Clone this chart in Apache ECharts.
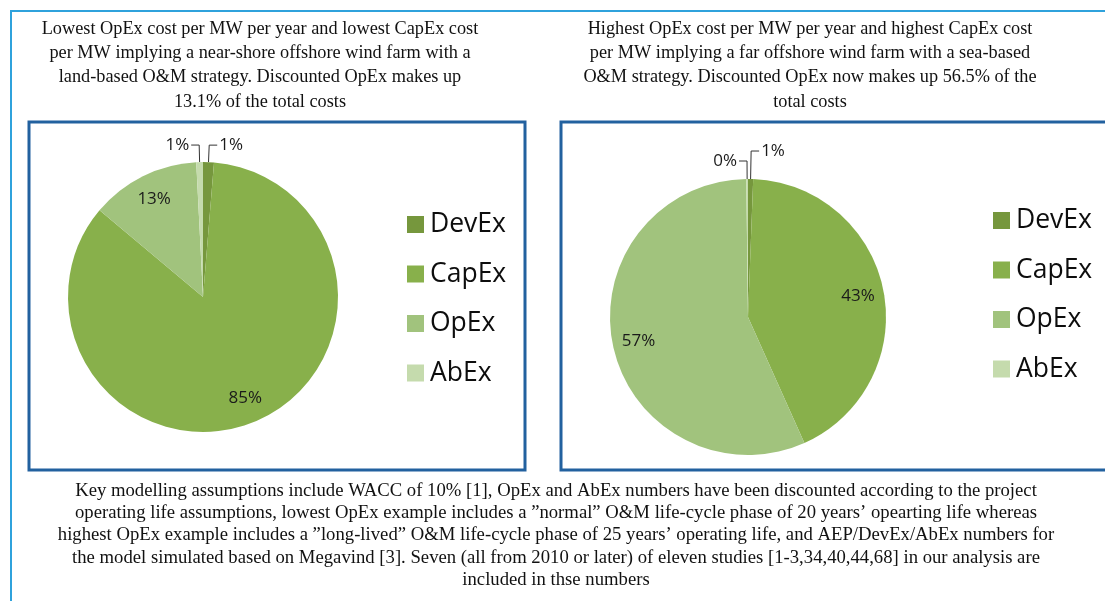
<!DOCTYPE html>
<html>
<head>
<meta charset="utf-8">
<script src="https://cdn.jsdelivr.net/npm/echarts@6/dist/echarts.min.js"></script>
<style>
html,body{margin:0;padding:0;background:#fff;}
#c{width:1105px;height:601px;}
</style>
</head>
<body>
<div id="c"></div>
<script>
// ---- data ----
const categories = ['DevEx', 'CapEx', 'OpEx', 'AbEx'];
const lowValues  = [1.3, 84.8, 13.1, 0.8];   // % of total cost, lowest OpEx case
const highValues = [0.6, 42.7, 56.5, 0.2];   // % of total cost, highest OpEx case
const colors = ['#76973d', '#88b04b', '#a1c37d', '#c5dbad'];

const leftTitle = [
  'Lowest OpEx cost per MW per year and lowest CapEx cost',
  'per MW implying a near-shore offshore wind farm with a',
  'land-based O&M strategy. Discounted OpEx makes up',
  '13.1% of the total costs'
];
const rightTitle = [
  'Highest OpEx cost per MW per year and highest CapEx cost',
  'per MW implying a far offshore wind farm with a sea-based',
  'O&M strategy. Discounted OpEx now makes up 56.5% of the',
  'total costs'
];
const footer = [
  'Key modelling assumptions include WACC of 10% [1], OpEx and AbEx numbers have been discounted according to the project',
  'operating life assumptions, lowest OpEx example includes a \u201dnormal\u201d O&M life-cycle phase of 20 years\u2019 opearting life whereas',
  'highest OpEx example includes a \u201dlong-lived\u201d O&M life-cycle phase of 25 years\u2019 operating life, and AEP/DevEx/AbEx numbers for',
  'the model simulated based on Megavind [3]. Seven (all from 2010 or later) of eleven studies [1-3,34,40,44,68] in our analysis are',
  'included in thse numbers'
];

const SMALL = 3; // slices below this % get an outside label
const pctFmt = p => Math.round(p.percent) + '%';
const lblFont = {fontFamily: '"Open Sans", sans-serif', fontSize: 17, color: '#1a1a1a'};

function pieSeries(values, center, r, lineLens) {
  return {
    type: 'pie', center: center, radius: r, startAngle: 90, clockwise: true,
    avoidLabelOverlap: false, silent: true,
    itemStyle: {borderWidth: 0},
    data: categories.map((n, i) => ({
      name: n, value: values[i],
      itemStyle: {color: colors[i]},
      label: values[i] < SMALL
        ? Object.assign({show: true, position: 'outside', formatter: pctFmt, distanceToLabelLine: 2}, lblFont)
        : {show: false},
      labelLine: values[i] < SMALL
        ? {show: true, length: lineLens[i], length2: 8, smooth: false, lineStyle: {color: '#333', width: 1}}
        : {show: false}
    }))
  };
}
function labelSeries(values, center, r) {
  return {
    type: 'pie', center: center, radius: [r * 0.58, r], startAngle: 90, clockwise: true,
    silent: true, avoidLabelOverlap: false,
    itemStyle: {color: 'rgba(0,0,0,0)', borderWidth: 0},
    labelLine: {show: false},
    data: categories.map((n, i) => ({
      name: n, value: values[i],
      label: values[i] >= SMALL
        ? Object.assign({show: true, position: 'inside', formatter: pctFmt}, lblFont)
        : {show: false}
    }))
  };
}

const graphics = [];
// frames
graphics.push({type: 'rect', shape: {x: 11, y: 11, width: 1200, height: 700},
  style: {fill: 'none', stroke: '#2fa2dc', lineWidth: 2}, z: -1});
graphics.push({type: 'rect', shape: {x: 29, y: 122, width: 496, height: 348},
  style: {fill: 'none', stroke: '#22619f', lineWidth: 3}, z: -1});
graphics.push({type: 'rect', shape: {x: 561, y: 122, width: 600, height: 348},
  style: {fill: 'none', stroke: '#22619f', lineWidth: 3}, z: -1});
function addLines(lines, cx, y0, dy, size) {
  lines.forEach((t, i) => graphics.push({
    type: 'text', x: cx, y: y0 + i * dy,
    style: {text: t, font: size + 'px "Liberation Serif", "Times New Roman", serif',
      fill: '#111', align: 'center', verticalAlign: 'middle'}
  }));
}
addLines(leftTitle, 260, 29, 24.3, 18.3);
addLines(rightTitle, 810, 29, 24.3, 18.3);
addLines(footer, 556, 491, 22.2, 18.7);

const legendCommon = {
  orient: 'vertical', data: categories, itemWidth: 17, itemHeight: 17, itemGap: 22.5,
  icon: 'rect', selectedMode: false,
  textStyle: {fontFamily: '"Open Sans", sans-serif', fontSize: 26.5, color: '#0d0d0d', padding: [0, 0, 0, 1]}
};

const chart = echarts.init(document.getElementById('c'), null, {renderer: 'canvas'});
chart.setOption({
  animation: false,
  backgroundColor: '#fff',
  graphic: graphics,
  legend: [
    Object.assign({left: 402, top: 206}, legendCommon),
    Object.assign({left: 988, top: 202}, legendCommon)
  ],
  series: [
    pieSeries(lowValues, [203, 297], 135, [17, 0, 0, 17]),
    pieSeries(highValues, [748, 317], 138, [28, 0, 0, 18]),
    labelSeries(lowValues, [203, 297], 135),
    labelSeries(highValues, [748, 317], 138)
  ]
});
</script>
</body>
</html>
